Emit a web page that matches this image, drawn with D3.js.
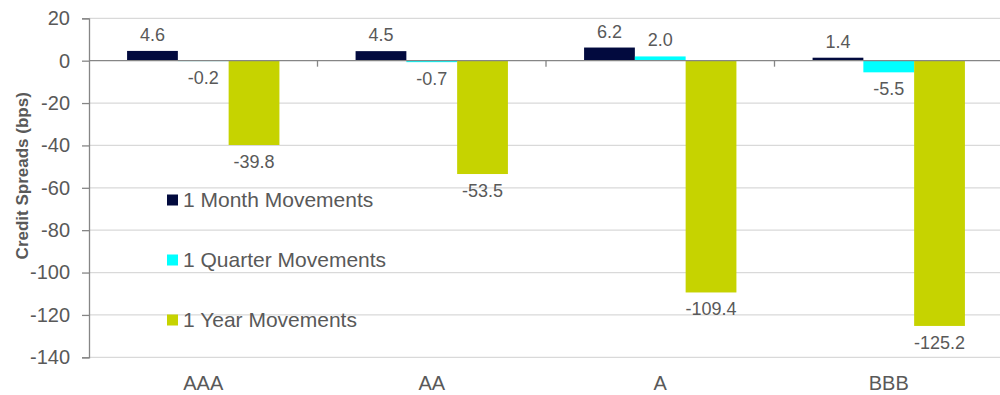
<!DOCTYPE html>
<html>
<head>
<meta charset="utf-8">
<script src="https://cdn.jsdelivr.net/npm/d3@7"></script>
<style>
  html, body { margin: 0; padding: 0; background: #fff; }
  svg { display: block; font-family: "Liberation Sans", Arial, sans-serif; }
</style>
</head>
<body>
<svg id="chart" width="1000" height="395"></svg>
<script>
// Credit spread movements by rating bucket (bps)
const categories = ["AAA", "AA", "A", "BBB"];
const seriesNames = ["1 Month Movements", "1 Quarter Movements", "1 Year Movements"];
const monthValues = [4.6, 4.5, 6.2, 1.4];
const quarterValues = [-0.2, -0.7, 2.0, -5.5];
const yearValues = [-39.8, -53.5, -109.4, -125.2];
const yTicks = [20, 0, -20, -40, -60, -80, -100, -120, -140];
const seriesColors = ["#020a3e", "#00ffff", "#c6d300"];

const series = [monthValues, quarterValues, yearValues];

const svg = d3.select("#chart");
const plotLeft = 89, plotRight = 1003, plotTop = 18.3, plotBottom = 357.3;
const textColor = "#595959";

// plain hyphen for negative numbers
const fmtInt = d => d3.format("d")(d).replace("\u2212", "-");
const fmtOne = d => d3.format(".1f")(d).replace("\u2212", "-");

const x = d3.scaleBand().domain(categories).range([plotLeft, plotRight])
  .paddingInner(1 / 3).paddingOuter(1 / 6);
const xSeries = d3.scaleBand().domain(d3.range(series.length)).range([0, x.bandwidth()]);
const y = d3.scaleLinear().domain([-140, 20]).range([plotBottom, plotTop]);

// horizontal gridlines
svg.append("g").selectAll("line").data(yTicks.filter(d => d !== 0)).join("line")
  .attr("x1", plotLeft).attr("x2", 1000)
  .attr("y1", d => y(d)).attr("y2", d => y(d))
  .attr("stroke", "#d9d9d9").attr("stroke-width", 1.2);

// y axis
const yAxis = svg.append("g").attr("transform", `translate(${plotLeft},0)`)
  .call(d3.axisLeft(y).tickValues(yTicks).tickSize(7).tickPadding(12).tickFormat(fmtInt));
yAxis.select(".domain").attr("stroke", "#868686").attr("stroke-width", 1.3);
yAxis.selectAll(".tick line").attr("stroke", "#868686").attr("stroke-width", 1.3);
yAxis.selectAll(".tick text").attr("fill", textColor)
  .style("font-size", "20px").attr("font-family", "Liberation Sans, Arial, sans-serif");

// y axis title
svg.append("text")
  .attr("transform", `translate(28,${(plotTop + plotBottom) / 2 - 12}) rotate(-90)`)
  .attr("text-anchor", "middle")
  .attr("fill", textColor).attr("font-weight", "bold").style("font-size", "17px")
  .text("Credit Spreads (bps)");

// bars
const groups = svg.append("g").selectAll("g").data(series).join("g")
  .attr("fill", (d, i) => seriesColors[i]);
groups.each(function (vals, si) {
  d3.select(this).selectAll("rect").data(vals).join("rect")
    .attr("x", (d, ci) => x(categories[ci]) + xSeries(si))
    .attr("width", xSeries.bandwidth())
    .attr("y", d => y(Math.max(0, d)))
    .attr("height", d => Math.abs(y(d) - y(0)));
});

// zero line with category separator ticks
svg.append("line").attr("x1", plotLeft).attr("x2", 1000)
  .attr("y1", y(0)).attr("y2", y(0))
  .attr("stroke", "#868686").attr("stroke-width", 1.3);
svg.append("g").selectAll("line").data(categories.slice(1)).join("line")
  .attr("x1", d => x(d) - x.step() * x.paddingInner() / 2)
  .attr("x2", d => x(d) - x.step() * x.paddingInner() / 2)
  .attr("y1", y(0)).attr("y2", y(0) + 6)
  .attr("stroke", "#868686").attr("stroke-width", 1.3);

// value labels
series.forEach((vals, si) => {
  svg.append("g").selectAll("text").data(vals).join("text")
    .attr("x", (d, ci) => x(categories[ci]) + xSeries(si) + xSeries.bandwidth() / 2)
    .attr("y", d => d >= 0 ? y(d) - 10 : y(d) + 23)
    .attr("text-anchor", "middle")
    .attr("fill", textColor).style("font-size", "18px")
    .text(fmtOne);
});

// category labels
svg.append("g").selectAll("text").data(categories).join("text")
  .attr("x", d => x(d) + x.bandwidth() / 2)
  .attr("y", 390)
  .attr("text-anchor", "middle")
  .attr("fill", textColor).style("font-size", "20px")
  .text(d => d);

// legend
const legend = svg.append("g").selectAll("g").data(seriesNames).join("g")
  .attr("transform", (d, i) => `translate(167,${200 + i * 60})`);
legend.append("rect").attr("x", 0).attr("y", -5.5).attr("width", 11).attr("height", 11)
  .attr("fill", (d, i) => seriesColors[i]);
legend.append("text").attr("x", 16).attr("y", 7)
  .attr("fill", textColor).style("font-size", "21px")
  .text(d => d);
</script>
</body>
</html>
